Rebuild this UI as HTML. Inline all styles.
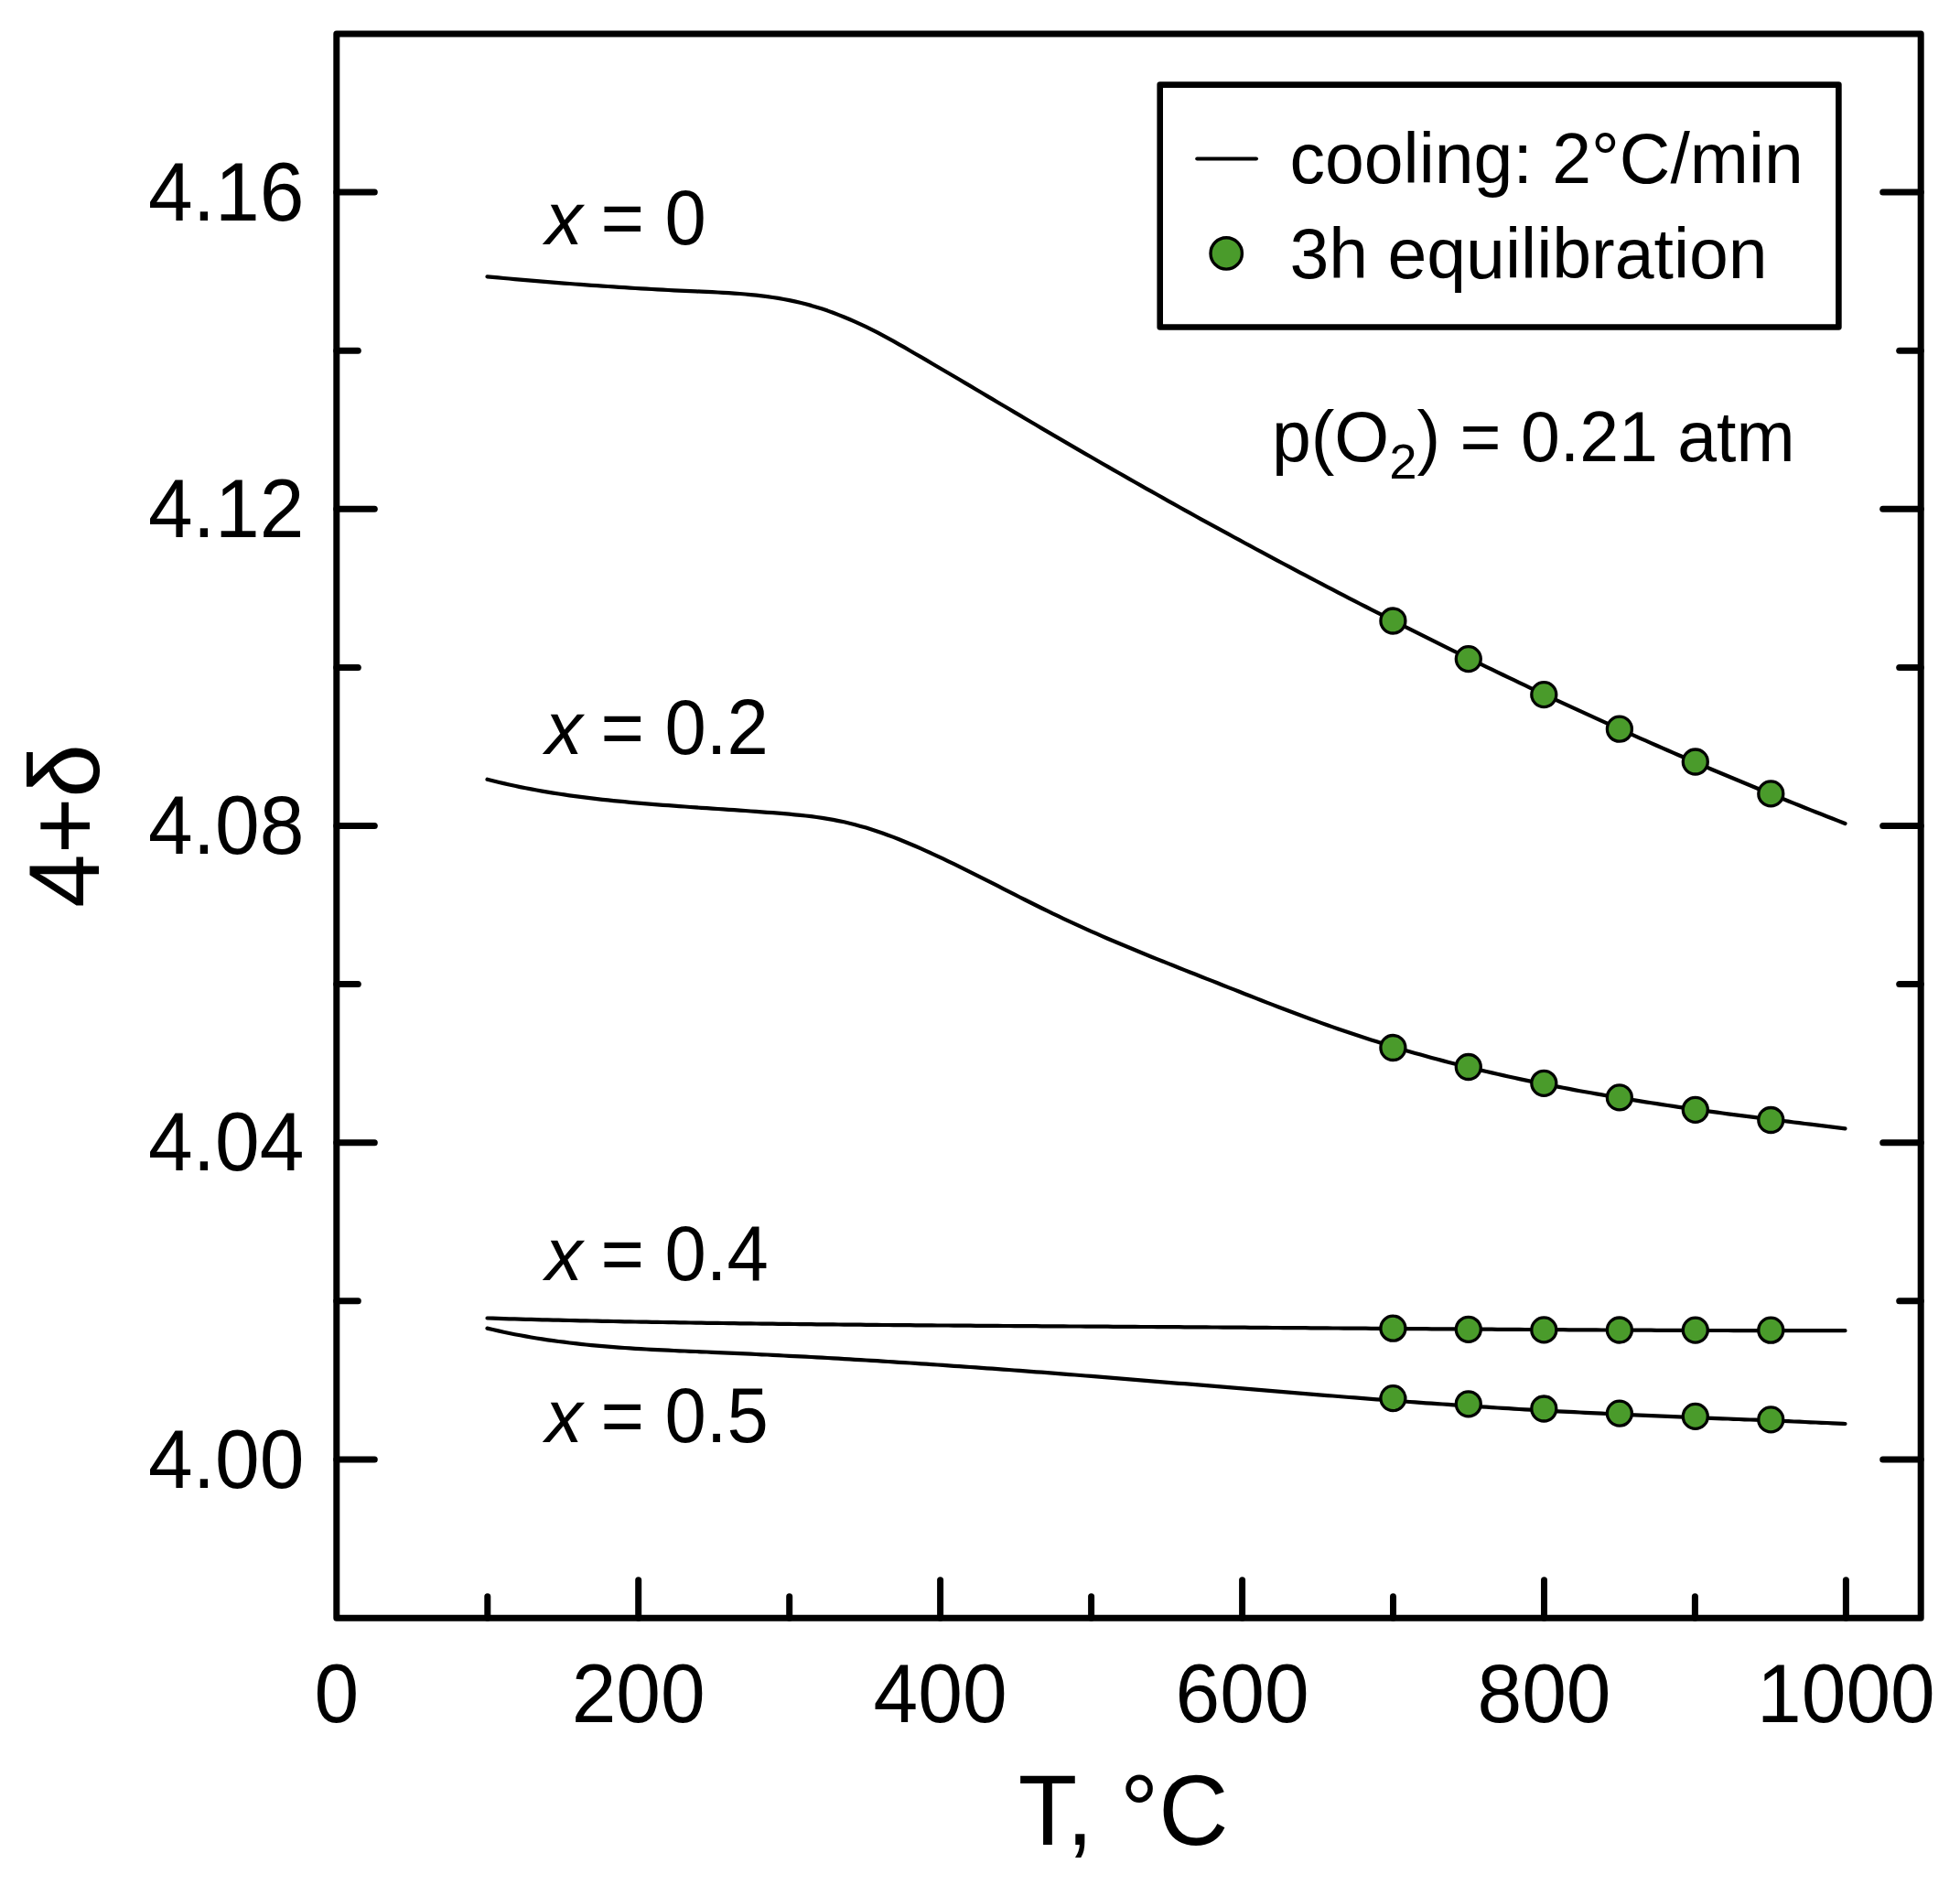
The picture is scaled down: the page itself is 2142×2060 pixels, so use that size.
<!DOCTYPE html>
<html lang="en"><head><meta charset="utf-8">
<title>4+δ vs T</title>
<style>
html,body{margin:0;padding:0;background:#fff;}
body{width:2142px;height:2060px;overflow:hidden;}
svg{display:block;}
text{font-family:"Liberation Sans", sans-serif;fill:#000;}
.tk{font-size:87.5px;}
.an{font-size:81.4px;}
.lg{font-size:77.0px;}
.ax{font-size:105.5px;}
</style></head><body>
<svg width="2142" height="2060" viewBox="0 0 2142 2060">
<rect x="0" y="0" width="2142" height="2060" fill="#fff"/>
<g fill="none" stroke="#000" stroke-width="4.2" stroke-linecap="round" stroke-linejoin="round">
<path d="M532.5 302.3 L538.5 302.9 L544.5 303.4 L550.5 304.0 L556.5 304.5 L562.5 305.1 L568.5 305.6 L574.5 306.1 L580.5 306.6 L586.5 307.1 L592.5 307.6 L598.5 308.1 L604.5 308.6 L610.5 309.1 L616.5 309.6 L622.5 310.0 L628.5 310.5 L634.5 310.9 L640.5 311.4 L646.5 311.8 L652.5 312.2 L658.5 312.6 L664.5 313.0 L670.5 313.4 L676.5 313.8 L682.5 314.2 L688.5 314.6 L694.5 315.0 L700.5 315.3 L706.5 315.7 L712.5 316.0 L718.5 316.3 L724.5 316.7 L730.5 317.0 L736.5 317.3 L742.5 317.6 L748.5 317.9 L754.5 318.1 L760.5 318.4 L766.5 318.7 L772.5 318.9 L778.5 319.2 L784.5 319.5 L790.5 319.8 L796.5 320.2 L802.5 320.6 L808.5 321.0 L814.5 321.5 L820.5 322.1 L826.5 322.7 L832.5 323.4 L838.5 324.1 L844.5 325.0 L850.5 325.9 L856.5 327.0 L862.5 328.1 L868.5 329.4 L874.5 330.8 L880.5 332.3 L886.5 333.9 L892.5 335.7 L898.5 337.6 L904.5 339.6 L910.5 341.8 L916.5 344.1 L922.5 346.5 L928.5 349.0 L934.5 351.6 L940.5 354.3 L946.5 357.2 L952.5 360.2 L958.5 363.2 L964.5 366.4 L970.5 369.6 L976.5 372.9 L982.5 376.3 L988.5 379.7 L994.5 383.2 L1000.5 386.7 L1006.5 390.1 L1012.5 393.6 L1018.5 397.2 L1024.5 400.7 L1030.5 404.2 L1036.5 407.7 L1042.5 411.3 L1048.5 414.8 L1054.5 418.4 L1060.5 421.9 L1066.5 425.5 L1072.5 429.0 L1078.5 432.6 L1084.5 436.1 L1090.5 439.7 L1096.5 443.2 L1102.5 446.8 L1108.5 450.4 L1114.5 453.9 L1120.5 457.5 L1126.5 461.0 L1132.5 464.5 L1138.5 468.1 L1144.5 471.6 L1150.5 475.1 L1156.5 478.6 L1162.5 482.1 L1168.5 485.6 L1174.5 489.1 L1180.5 492.6 L1186.5 496.1 L1192.5 499.5 L1198.5 503.0 L1204.5 506.5 L1210.5 509.9 L1216.5 513.3 L1222.5 516.8 L1228.5 520.2 L1234.5 523.6 L1240.5 527.0 L1246.5 530.4 L1252.5 533.8 L1258.5 537.2 L1264.5 540.5 L1270.5 543.9 L1276.5 547.3 L1282.5 550.6 L1288.5 554.0 L1294.5 557.3 L1300.5 560.6 L1306.5 564.0 L1312.5 567.3 L1318.5 570.6 L1324.5 573.9 L1330.5 577.2 L1336.5 580.4 L1342.5 583.7 L1348.5 587.0 L1354.5 590.2 L1360.5 593.5 L1366.5 596.7 L1372.5 600.0 L1378.5 603.2 L1384.5 606.4 L1390.5 609.6 L1396.5 612.8 L1402.5 616.0 L1408.5 619.2 L1414.5 622.4 L1420.5 625.6 L1426.5 628.7 L1432.5 631.9 L1438.5 635.0 L1444.5 638.2 L1450.5 641.3 L1456.5 644.4 L1462.5 647.6 L1468.5 650.7 L1474.5 653.8 L1480.5 656.9 L1486.5 660.0 L1492.5 663.0 L1498.5 666.1 L1504.5 669.2 L1510.5 672.2 L1516.5 675.3 L1522.5 678.3 L1528.5 681.4 L1534.5 684.4 L1540.5 687.4 L1546.5 690.4 L1552.5 693.4 L1558.5 696.4 L1564.5 699.4 L1570.5 702.4 L1576.5 705.3 L1582.5 708.3 L1588.5 711.3 L1594.5 714.2 L1600.5 717.1 L1606.5 720.1 L1612.5 723.0 L1618.5 725.9 L1624.5 728.8 L1630.5 731.7 L1636.5 734.6 L1642.5 737.5 L1648.5 740.4 L1654.5 743.2 L1660.5 746.1 L1666.5 748.9 L1672.5 751.8 L1678.5 754.6 L1684.5 757.4 L1690.5 760.2 L1696.5 763.0 L1702.5 765.8 L1708.5 768.6 L1714.5 771.4 L1720.5 774.2 L1726.5 776.9 L1732.5 779.7 L1738.5 782.4 L1744.5 785.2 L1750.5 787.9 L1756.5 790.6 L1762.5 793.3 L1768.5 796.0 L1774.5 798.7 L1780.5 801.4 L1786.5 804.1 L1792.5 806.8 L1798.5 809.4 L1804.5 812.1 L1810.5 814.7 L1816.5 817.4 L1822.5 820.0 L1828.5 822.6 L1834.5 825.2 L1840.5 827.8 L1846.5 830.4 L1852.5 833.0 L1858.5 835.6 L1864.5 838.1 L1870.5 840.7 L1876.5 843.2 L1882.5 845.8 L1888.5 848.3 L1894.5 850.8 L1900.5 853.3 L1906.5 855.8 L1912.5 858.3 L1918.5 860.8 L1924.5 863.2 L1930.5 865.7 L1936.5 868.2 L1942.5 870.6 L1948.5 873.0 L1954.5 875.5 L1960.5 877.9 L1966.5 880.3 L1972.5 882.7 L1978.5 885.1 L1984.5 887.5 L1990.5 889.8 L1996.5 892.2 L2002.5 894.5 L2008.5 896.9 L2014.5 899.2 L2016.5 900.0"/>
<path d="M532.5 851.7 L538.5 853.2 L544.5 854.7 L550.5 856.1 L556.5 857.5 L562.5 858.8 L568.5 860.1 L574.5 861.3 L580.5 862.4 L586.5 863.5 L592.5 864.6 L598.5 865.6 L604.5 866.6 L610.5 867.5 L616.5 868.4 L622.5 869.3 L628.5 870.1 L634.5 870.9 L640.5 871.7 L646.5 872.4 L652.5 873.1 L658.5 873.8 L664.5 874.4 L670.5 875.1 L676.5 875.7 L682.5 876.2 L688.5 876.8 L694.5 877.3 L700.5 877.9 L706.5 878.4 L712.5 878.8 L718.5 879.3 L724.5 879.8 L730.5 880.2 L736.5 880.7 L742.5 881.1 L748.5 881.5 L754.5 882.0 L760.5 882.4 L766.5 882.8 L772.5 883.2 L778.5 883.6 L784.5 884.0 L790.5 884.4 L796.5 884.8 L802.5 885.2 L808.5 885.6 L814.5 886.0 L820.5 886.5 L826.5 886.9 L832.5 887.3 L838.5 887.8 L844.5 888.2 L850.5 888.7 L856.5 889.2 L862.5 889.7 L868.5 890.3 L874.5 890.9 L880.5 891.5 L886.5 892.2 L892.5 893.0 L898.5 893.9 L904.5 894.9 L910.5 895.9 L916.5 897.1 L922.5 898.3 L928.5 899.7 L934.5 901.2 L940.5 902.9 L946.5 904.6 L952.5 906.5 L958.5 908.5 L964.5 910.5 L970.5 912.7 L976.5 914.9 L982.5 917.3 L988.5 919.7 L994.5 922.2 L1000.5 924.8 L1006.5 927.4 L1012.5 930.1 L1018.5 932.8 L1024.5 935.6 L1030.5 938.4 L1036.5 941.3 L1042.5 944.2 L1048.5 947.1 L1054.5 950.1 L1060.5 953.1 L1066.5 956.1 L1072.5 959.1 L1078.5 962.1 L1084.5 965.2 L1090.5 968.2 L1096.5 971.3 L1102.5 974.4 L1108.5 977.4 L1114.5 980.5 L1120.5 983.5 L1126.5 986.5 L1132.5 989.5 L1138.5 992.5 L1144.5 995.4 L1150.5 998.4 L1156.5 1001.2 L1162.5 1004.1 L1168.5 1006.9 L1174.5 1009.7 L1180.5 1012.4 L1186.5 1015.1 L1192.5 1017.8 L1198.5 1020.4 L1204.5 1023.1 L1210.5 1025.7 L1216.5 1028.2 L1222.5 1030.8 L1228.5 1033.3 L1234.5 1035.8 L1240.5 1038.3 L1246.5 1040.8 L1252.5 1043.2 L1258.5 1045.7 L1264.5 1048.1 L1270.5 1050.5 L1276.5 1052.9 L1282.5 1055.3 L1288.5 1057.7 L1294.5 1060.1 L1300.5 1062.5 L1306.5 1064.8 L1312.5 1067.2 L1318.5 1069.6 L1324.5 1071.9 L1330.5 1074.3 L1336.5 1076.7 L1342.5 1079.1 L1348.5 1081.4 L1354.5 1083.8 L1360.5 1086.2 L1366.5 1088.5 L1372.5 1090.9 L1378.5 1093.2 L1384.5 1095.6 L1390.5 1097.9 L1396.5 1100.2 L1402.5 1102.5 L1408.5 1104.8 L1414.5 1107.0 L1420.5 1109.3 L1426.5 1111.5 L1432.5 1113.7 L1438.5 1115.9 L1444.5 1118.1 L1450.5 1120.2 L1456.5 1122.4 L1462.5 1124.5 L1468.5 1126.5 L1474.5 1128.6 L1480.5 1130.6 L1486.5 1132.6 L1492.5 1134.5 L1498.5 1136.4 L1504.5 1138.3 L1510.5 1140.2 L1516.5 1142.0 L1522.5 1143.9 L1528.5 1145.7 L1534.5 1147.4 L1540.5 1149.2 L1546.5 1150.9 L1552.5 1152.6 L1558.5 1154.2 L1564.5 1155.9 L1570.5 1157.5 L1576.5 1159.1 L1582.5 1160.7 L1588.5 1162.2 L1594.5 1163.7 L1600.5 1165.2 L1606.5 1166.7 L1612.5 1168.2 L1618.5 1169.6 L1624.5 1171.0 L1630.5 1172.4 L1636.5 1173.8 L1642.5 1175.1 L1648.5 1176.5 L1654.5 1177.8 L1660.5 1179.1 L1666.5 1180.4 L1672.5 1181.6 L1678.5 1182.9 L1684.5 1184.1 L1690.5 1185.3 L1696.5 1186.5 L1702.5 1187.6 L1708.5 1188.8 L1714.5 1189.9 L1720.5 1191.1 L1726.5 1192.2 L1732.5 1193.3 L1738.5 1194.3 L1744.5 1195.4 L1750.5 1196.4 L1756.5 1197.5 L1762.5 1198.5 L1768.5 1199.5 L1774.5 1200.5 L1780.5 1201.5 L1786.5 1202.4 L1792.5 1203.4 L1798.5 1204.3 L1804.5 1205.3 L1810.5 1206.2 L1816.5 1207.1 L1822.5 1208.0 L1828.5 1208.9 L1834.5 1209.8 L1840.5 1210.6 L1846.5 1211.5 L1852.5 1212.3 L1858.5 1213.2 L1864.5 1214.0 L1870.5 1214.9 L1876.5 1215.7 L1882.5 1216.5 L1888.5 1217.3 L1894.5 1218.1 L1900.5 1218.9 L1906.5 1219.7 L1912.5 1220.4 L1918.5 1221.2 L1924.5 1222.0 L1930.5 1222.7 L1936.5 1223.5 L1942.5 1224.3 L1948.5 1225.0 L1954.5 1225.7 L1960.5 1226.5 L1966.5 1227.2 L1972.5 1228.0 L1978.5 1228.7 L1984.5 1229.4 L1990.5 1230.2 L1996.5 1230.9 L2002.5 1231.6 L2008.5 1232.4 L2014.5 1233.1 L2016.5 1233.3"/>
<path d="M532.5 1440.5 L538.5 1440.7 L544.5 1440.9 L550.5 1441.1 L556.5 1441.3 L562.5 1441.4 L568.5 1441.6 L574.5 1441.8 L580.5 1441.9 L586.5 1442.1 L592.5 1442.3 L598.5 1442.4 L604.5 1442.6 L610.5 1442.7 L616.5 1442.9 L622.5 1443.0 L628.5 1443.1 L634.5 1443.3 L640.5 1443.4 L646.5 1443.5 L652.5 1443.7 L658.5 1443.8 L664.5 1443.9 L670.5 1444.0 L676.5 1444.2 L682.5 1444.3 L688.5 1444.4 L694.5 1444.5 L700.5 1444.6 L706.5 1444.7 L712.5 1444.8 L718.5 1444.9 L724.5 1445.0 L730.5 1445.1 L736.5 1445.2 L742.5 1445.3 L748.5 1445.4 L754.5 1445.5 L760.5 1445.6 L766.5 1445.7 L772.5 1445.8 L778.5 1445.9 L784.5 1445.9 L790.5 1446.0 L796.5 1446.1 L802.5 1446.2 L808.5 1446.3 L814.5 1446.3 L820.5 1446.4 L826.5 1446.5 L832.5 1446.6 L838.5 1446.6 L844.5 1446.7 L850.5 1446.8 L856.5 1446.9 L862.5 1446.9 L868.5 1447.0 L874.5 1447.1 L880.5 1447.1 L886.5 1447.2 L892.5 1447.3 L898.5 1447.3 L904.5 1447.4 L910.5 1447.4 L916.5 1447.5 L922.5 1447.6 L928.5 1447.6 L934.5 1447.7 L940.5 1447.7 L946.5 1447.8 L952.5 1447.8 L958.5 1447.9 L964.5 1448.0 L970.5 1448.0 L976.5 1448.1 L982.5 1448.1 L988.5 1448.2 L994.5 1448.2 L1000.5 1448.3 L1006.5 1448.3 L1012.5 1448.4 L1018.5 1448.4 L1024.5 1448.5 L1030.5 1448.5 L1036.5 1448.5 L1042.5 1448.6 L1048.5 1448.6 L1054.5 1448.7 L1060.5 1448.7 L1066.5 1448.8 L1072.5 1448.8 L1078.5 1448.9 L1084.5 1448.9 L1090.5 1448.9 L1096.5 1449.0 L1102.5 1449.0 L1108.5 1449.1 L1114.5 1449.1 L1120.5 1449.1 L1126.5 1449.2 L1132.5 1449.2 L1138.5 1449.3 L1144.5 1449.3 L1150.5 1449.3 L1156.5 1449.4 L1162.5 1449.4 L1168.5 1449.5 L1174.5 1449.5 L1180.5 1449.5 L1186.5 1449.6 L1192.5 1449.6 L1198.5 1449.6 L1204.5 1449.7 L1210.5 1449.7 L1216.5 1449.8 L1222.5 1449.8 L1228.5 1449.8 L1234.5 1449.9 L1240.5 1449.9 L1246.5 1450.0 L1252.5 1450.0 L1258.5 1450.0 L1264.5 1450.1 L1270.5 1450.1 L1276.5 1450.2 L1282.5 1450.2 L1288.5 1450.2 L1294.5 1450.3 L1300.5 1450.3 L1306.5 1450.4 L1312.5 1450.4 L1318.5 1450.4 L1324.5 1450.5 L1330.5 1450.5 L1336.5 1450.6 L1342.5 1450.6 L1348.5 1450.7 L1354.5 1450.7 L1360.5 1450.7 L1366.5 1450.8 L1372.5 1450.8 L1378.5 1450.9 L1384.5 1450.9 L1390.5 1451.0 L1396.5 1451.0 L1402.5 1451.1 L1408.5 1451.1 L1414.5 1451.1 L1420.5 1451.2 L1426.5 1451.2 L1432.5 1451.3 L1438.5 1451.3 L1444.5 1451.4 L1450.5 1451.4 L1456.5 1451.5 L1462.5 1451.5 L1468.5 1451.6 L1474.5 1451.6 L1480.5 1451.6 L1486.5 1451.7 L1492.5 1451.7 L1498.5 1451.8 L1504.5 1451.8 L1510.5 1451.9 L1516.5 1451.9 L1522.5 1452.0 L1528.5 1452.0 L1534.5 1452.1 L1540.5 1452.1 L1546.5 1452.1 L1552.5 1452.2 L1558.5 1452.2 L1564.5 1452.3 L1570.5 1452.3 L1576.5 1452.4 L1582.5 1452.4 L1588.5 1452.4 L1594.5 1452.5 L1600.5 1452.5 L1606.5 1452.6 L1612.5 1452.6 L1618.5 1452.7 L1624.5 1452.7 L1630.5 1452.7 L1636.5 1452.8 L1642.5 1452.8 L1648.5 1452.9 L1654.5 1452.9 L1660.5 1452.9 L1666.5 1453.0 L1672.5 1453.0 L1678.5 1453.1 L1684.5 1453.1 L1690.5 1453.1 L1696.5 1453.2 L1702.5 1453.2 L1708.5 1453.2 L1714.5 1453.3 L1720.5 1453.3 L1726.5 1453.3 L1732.5 1453.4 L1738.5 1453.4 L1744.5 1453.4 L1750.5 1453.5 L1756.5 1453.5 L1762.5 1453.5 L1768.5 1453.6 L1774.5 1453.6 L1780.5 1453.6 L1786.5 1453.7 L1792.5 1453.7 L1798.5 1453.7 L1804.5 1453.7 L1810.5 1453.8 L1816.5 1453.8 L1822.5 1453.8 L1828.5 1453.8 L1834.5 1453.9 L1840.5 1453.9 L1846.5 1453.9 L1852.5 1453.9 L1858.5 1454.0 L1864.5 1454.0 L1870.5 1454.0 L1876.5 1454.0 L1882.5 1454.0 L1888.5 1454.0 L1894.5 1454.1 L1900.5 1454.1 L1906.5 1454.1 L1912.5 1454.1 L1918.5 1454.1 L1924.5 1454.1 L1930.5 1454.1 L1936.5 1454.1 L1942.5 1454.1 L1948.5 1454.2 L1954.5 1454.2 L1960.5 1454.2 L1966.5 1454.2 L1972.5 1454.2 L1978.5 1454.2 L1984.5 1454.2 L1990.5 1454.2 L1996.5 1454.2 L2002.5 1454.2 L2008.5 1454.2 L2014.5 1454.2 L2016.5 1454.2"/>
<path d="M532.5 1451.6 L538.5 1453.0 L544.5 1454.4 L550.5 1455.7 L556.5 1457.0 L562.5 1458.2 L568.5 1459.3 L574.5 1460.4 L580.5 1461.5 L586.5 1462.5 L592.5 1463.4 L598.5 1464.3 L604.5 1465.2 L610.5 1466.0 L616.5 1466.7 L622.5 1467.5 L628.5 1468.2 L634.5 1468.8 L640.5 1469.5 L646.5 1470.1 L652.5 1470.6 L658.5 1471.1 L664.5 1471.6 L670.5 1472.1 L676.5 1472.6 L682.5 1473.0 L688.5 1473.4 L694.5 1473.8 L700.5 1474.1 L706.5 1474.5 L712.5 1474.8 L718.5 1475.1 L724.5 1475.4 L730.5 1475.7 L736.5 1476.0 L742.5 1476.3 L748.5 1476.5 L754.5 1476.8 L760.5 1477.0 L766.5 1477.3 L772.5 1477.5 L778.5 1477.8 L784.5 1478.1 L790.5 1478.3 L796.5 1478.6 L802.5 1478.8 L808.5 1479.1 L814.5 1479.4 L820.5 1479.7 L826.5 1480.0 L832.5 1480.3 L838.5 1480.5 L844.5 1480.8 L850.5 1481.1 L856.5 1481.5 L862.5 1481.8 L868.5 1482.1 L874.5 1482.4 L880.5 1482.7 L886.5 1483.0 L892.5 1483.4 L898.5 1483.7 L904.5 1484.0 L910.5 1484.4 L916.5 1484.7 L922.5 1485.1 L928.5 1485.4 L934.5 1485.8 L940.5 1486.1 L946.5 1486.5 L952.5 1486.9 L958.5 1487.2 L964.5 1487.6 L970.5 1488.0 L976.5 1488.4 L982.5 1488.8 L988.5 1489.1 L994.5 1489.5 L1000.5 1489.9 L1006.5 1490.3 L1012.5 1490.7 L1018.5 1491.1 L1024.5 1491.5 L1030.5 1491.9 L1036.5 1492.3 L1042.5 1492.8 L1048.5 1493.2 L1054.5 1493.6 L1060.5 1494.0 L1066.5 1494.4 L1072.5 1494.9 L1078.5 1495.3 L1084.5 1495.7 L1090.5 1496.2 L1096.5 1496.6 L1102.5 1497.0 L1108.5 1497.5 L1114.5 1497.9 L1120.5 1498.4 L1126.5 1498.8 L1132.5 1499.3 L1138.5 1499.7 L1144.5 1500.2 L1150.5 1500.7 L1156.5 1501.1 L1162.5 1501.6 L1168.5 1502.1 L1174.5 1502.5 L1180.5 1503.0 L1186.5 1503.5 L1192.5 1503.9 L1198.5 1504.4 L1204.5 1504.9 L1210.5 1505.4 L1216.5 1505.9 L1222.5 1506.3 L1228.5 1506.8 L1234.5 1507.3 L1240.5 1507.8 L1246.5 1508.3 L1252.5 1508.8 L1258.5 1509.3 L1264.5 1509.8 L1270.5 1510.3 L1276.5 1510.8 L1282.5 1511.3 L1288.5 1511.8 L1294.5 1512.2 L1300.5 1512.7 L1306.5 1513.2 L1312.5 1513.7 L1318.5 1514.2 L1324.5 1514.7 L1330.5 1515.2 L1336.5 1515.7 L1342.5 1516.2 L1348.5 1516.7 L1354.5 1517.2 L1360.5 1517.7 L1366.5 1518.2 L1372.5 1518.7 L1378.5 1519.2 L1384.5 1519.7 L1390.5 1520.2 L1396.5 1520.7 L1402.5 1521.2 L1408.5 1521.7 L1414.5 1522.2 L1420.5 1522.6 L1426.5 1523.1 L1432.5 1523.6 L1438.5 1524.1 L1444.5 1524.6 L1450.5 1525.1 L1456.5 1525.5 L1462.5 1526.0 L1468.5 1526.5 L1474.5 1527.0 L1480.5 1527.4 L1486.5 1527.9 L1492.5 1528.4 L1498.5 1528.8 L1504.5 1529.3 L1510.5 1529.7 L1516.5 1530.2 L1522.5 1530.6 L1528.5 1531.1 L1534.5 1531.5 L1540.5 1532.0 L1546.5 1532.4 L1552.5 1532.8 L1558.5 1533.3 L1564.5 1533.7 L1570.5 1534.1 L1576.5 1534.5 L1582.5 1534.9 L1588.5 1535.4 L1594.5 1535.8 L1600.5 1536.2 L1606.5 1536.6 L1612.5 1537.0 L1618.5 1537.4 L1624.5 1537.7 L1630.5 1538.1 L1636.5 1538.5 L1642.5 1538.9 L1648.5 1539.2 L1654.5 1539.6 L1660.5 1540.0 L1666.5 1540.3 L1672.5 1540.7 L1678.5 1541.0 L1684.5 1541.3 L1690.5 1541.7 L1696.5 1542.0 L1702.5 1542.3 L1708.5 1542.6 L1714.5 1542.9 L1720.5 1543.2 L1726.5 1543.5 L1732.5 1543.8 L1738.5 1544.1 L1744.5 1544.4 L1750.5 1544.7 L1756.5 1545.0 L1762.5 1545.3 L1768.5 1545.5 L1774.5 1545.8 L1780.5 1546.1 L1786.5 1546.3 L1792.5 1546.6 L1798.5 1546.9 L1804.5 1547.1 L1810.5 1547.4 L1816.5 1547.6 L1822.5 1547.9 L1828.5 1548.1 L1834.5 1548.4 L1840.5 1548.6 L1846.5 1548.9 L1852.5 1549.1 L1858.5 1549.3 L1864.5 1549.6 L1870.5 1549.8 L1876.5 1550.1 L1882.5 1550.3 L1888.5 1550.5 L1894.5 1550.8 L1900.5 1551.0 L1906.5 1551.3 L1912.5 1551.5 L1918.5 1551.7 L1924.5 1552.0 L1930.5 1552.2 L1936.5 1552.5 L1942.5 1552.7 L1948.5 1553.0 L1954.5 1553.2 L1960.5 1553.5 L1966.5 1553.7 L1972.5 1554.0 L1978.5 1554.3 L1984.5 1554.5 L1990.5 1554.8 L1996.5 1555.0 L2002.5 1555.3 L2008.5 1555.6 L2014.5 1555.9 L2016.5 1556.0"/>
</g>
<g fill="#4a9b2b" stroke="#000" stroke-width="3.3">
<circle cx="1522.4" cy="678.5" r="13.5"/>
<circle cx="1604.8" cy="720.1" r="13.5"/>
<circle cx="1687.3" cy="759.1" r="13.5"/>
<circle cx="1769.9" cy="796.7" r="13.5"/>
<circle cx="1852.8" cy="832.5" r="13.5"/>
<circle cx="1935.3" cy="867.4" r="13.5"/>
<circle cx="1522.4" cy="1145.0" r="13.5"/>
<circle cx="1604.8" cy="1166.0" r="13.5"/>
<circle cx="1687.3" cy="1183.8" r="13.5"/>
<circle cx="1769.9" cy="1199.4" r="13.5"/>
<circle cx="1852.8" cy="1212.8" r="13.5"/>
<circle cx="1935.3" cy="1224.0" r="13.5"/>
<circle cx="1522.4" cy="1451.7" r="13.5"/>
<circle cx="1604.8" cy="1452.8" r="13.5"/>
<circle cx="1687.3" cy="1453.4" r="13.5"/>
<circle cx="1769.9" cy="1453.5" r="13.5"/>
<circle cx="1852.8" cy="1453.6" r="13.5"/>
<circle cx="1935.3" cy="1453.7" r="13.5"/>
<circle cx="1522.4" cy="1528.1" r="13.5"/>
<circle cx="1604.8" cy="1534.3" r="13.5"/>
<circle cx="1687.3" cy="1539.5" r="13.5"/>
<circle cx="1769.9" cy="1544.6" r="13.5"/>
<circle cx="1852.8" cy="1547.9" r="13.5"/>
<circle cx="1935.3" cy="1551.4" r="13.5"/>
</g>
<g stroke="#000" stroke-width="7.0" stroke-linecap="round">
<line x1="532.8" y1="1768.3" x2="532.8" y2="1744.8"/>
<line x1="697.7" y1="1768.3" x2="697.7" y2="1726.8"/>
<line x1="862.7" y1="1768.3" x2="862.7" y2="1744.8"/>
<line x1="1027.6" y1="1768.3" x2="1027.6" y2="1726.8"/>
<line x1="1192.6" y1="1768.3" x2="1192.6" y2="1744.8"/>
<line x1="1357.6" y1="1768.3" x2="1357.6" y2="1726.8"/>
<line x1="1522.5" y1="1768.3" x2="1522.5" y2="1744.8"/>
<line x1="1687.5" y1="1768.3" x2="1687.5" y2="1726.8"/>
<line x1="1852.4" y1="1768.3" x2="1852.4" y2="1744.8"/>
<line x1="2017.4" y1="1768.3" x2="2017.4" y2="1726.8"/>
<line x1="367.8" y1="1594.9" x2="409.3" y2="1594.9"/>
<line x1="2099.2" y1="1594.9" x2="2057.7" y2="1594.9"/>
<line x1="367.8" y1="1421.8" x2="391.3" y2="1421.8"/>
<line x1="2099.2" y1="1421.8" x2="2075.7" y2="1421.8"/>
<line x1="367.8" y1="1248.7" x2="409.3" y2="1248.7"/>
<line x1="2099.2" y1="1248.7" x2="2057.7" y2="1248.7"/>
<line x1="367.8" y1="1075.6" x2="391.3" y2="1075.6"/>
<line x1="2099.2" y1="1075.6" x2="2075.7" y2="1075.6"/>
<line x1="367.8" y1="902.5" x2="409.3" y2="902.5"/>
<line x1="2099.2" y1="902.5" x2="2057.7" y2="902.5"/>
<line x1="367.8" y1="729.4" x2="391.3" y2="729.4"/>
<line x1="2099.2" y1="729.4" x2="2075.7" y2="729.4"/>
<line x1="367.8" y1="556.3" x2="409.3" y2="556.3"/>
<line x1="2099.2" y1="556.3" x2="2057.7" y2="556.3"/>
<line x1="367.8" y1="383.2" x2="391.3" y2="383.2"/>
<line x1="2099.2" y1="383.2" x2="2075.7" y2="383.2"/>
<line x1="367.8" y1="210.1" x2="409.3" y2="210.1"/>
<line x1="2099.2" y1="210.1" x2="2057.7" y2="210.1"/>
</g>
<rect x="367.8" y="37.0" width="1731.4" height="1731.3" fill="none" stroke="#000" stroke-width="7.0" stroke-linejoin="round"/>
<text class="tk" text-anchor="middle" transform="translate(367.8 1882.4) scale(1 1.04)">0</text>
<text class="tk" text-anchor="middle" transform="translate(697.7 1882.4) scale(1 1.04)">200</text>
<text class="tk" text-anchor="middle" transform="translate(1027.6 1882.4) scale(1 1.04)">400</text>
<text class="tk" text-anchor="middle" transform="translate(1357.6 1882.4) scale(1 1.04)">600</text>
<text class="tk" text-anchor="middle" transform="translate(1687.5 1882.4) scale(1 1.04)">800</text>
<text class="tk" text-anchor="middle" transform="translate(2017.4 1882.4) scale(1 1.04)">1000</text>
<text class="tk" text-anchor="end" transform="translate(332.4 1625.5) scale(1 1.04)">4.00</text>
<text class="tk" text-anchor="end" transform="translate(332.4 1279.3) scale(1 1.04)">4.04</text>
<text class="tk" text-anchor="end" transform="translate(332.4 933.1) scale(1 1.04)">4.08</text>
<text class="tk" text-anchor="end" transform="translate(332.4 586.9) scale(1 1.04)">4.12</text>
<text class="tk" text-anchor="end" transform="translate(332.4 240.7) scale(1 1.04)">4.16</text>
<text class="ax" text-anchor="middle" transform="translate(1227.5 2015.6) scale(1 1.04)">T, °C</text>
<text class="ax" text-anchor="middle" transform="translate(108.2 902.4) rotate(-90) scale(1 1.04)">4+δ</text>
<text class="an" transform="translate(595.9 267.1) scale(1 1.0)"><tspan font-style="italic">x</tspan></text>
<text class="an" transform="translate(656.4 267.1) scale(1 1.04)">= 0</text>
<text class="an" transform="translate(595.9 823.5) scale(1 1.0)"><tspan font-style="italic">x</tspan></text>
<text class="an" transform="translate(656.4 823.5) scale(1 1.04)">= 0.2</text>
<text class="an" transform="translate(595.9 1398.7) scale(1 1.0)"><tspan font-style="italic">x</tspan></text>
<text class="an" transform="translate(656.4 1398.7) scale(1 1.04)">= 0.4</text>
<text class="an" transform="translate(595.9 1575.6) scale(1 1.0)"><tspan font-style="italic">x</tspan></text>
<text class="an" transform="translate(656.4 1575.6) scale(1 1.04)">= 0.5</text>
<text class="lg" transform="translate(1389.9 504.2) scale(1 1.0)">p(O<tspan font-size="54.5px" dy="18.8">2</tspan><tspan dy="-18.8">) = 0.21 atm</tspan></text>
<rect x="1267.7" y="92.6" width="741.7" height="264.9" fill="#fff" stroke="#000" stroke-width="6.6" stroke-linejoin="round"/>
<line x1="1308.3" y1="173.5" x2="1372.9" y2="173.5" stroke="#000" stroke-width="4.2" stroke-linecap="round"/>
<circle cx="1340.2" cy="276.9" r="17.2" fill="#4a9b2b" stroke="#000" stroke-width="3.4"/>
<text class="lg" transform="translate(1409.4 200.4) scale(1 1.0)">cooling: 2°C/min</text>
<text class="lg" transform="translate(1409.4 303.6) scale(1 1.0)">3h equilibration</text>
</svg>
</body></html>
